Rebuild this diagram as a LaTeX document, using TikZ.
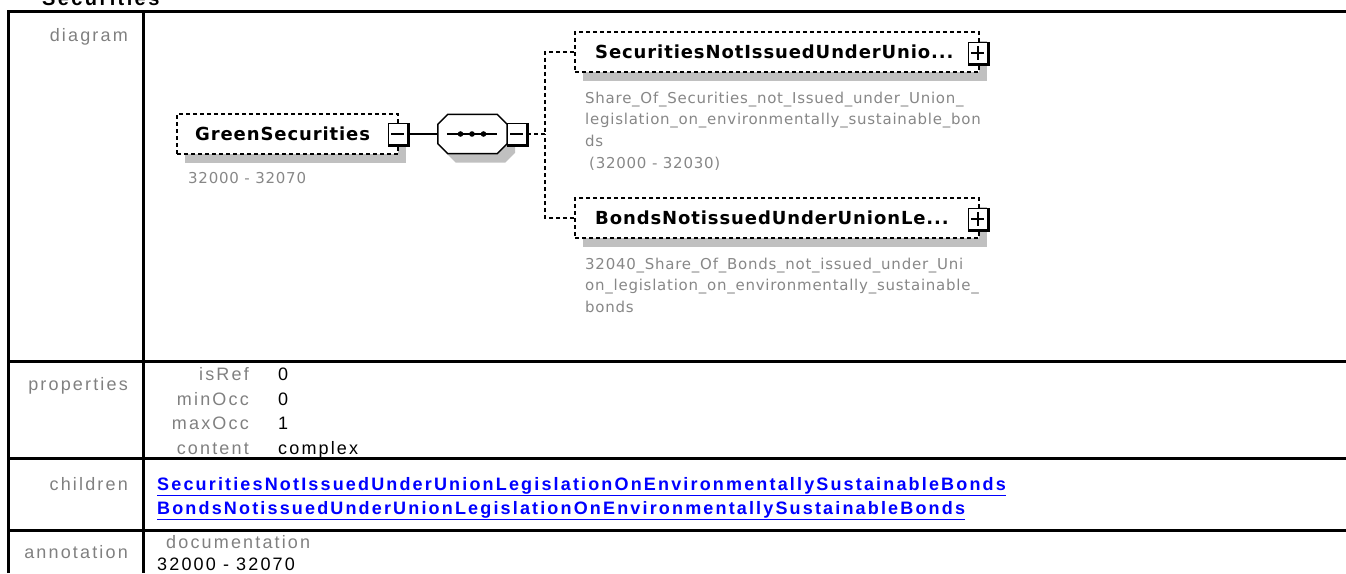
\documentclass[tikz,border=0pt]{standalone}
\usepackage{fontspec}
\setmainfont[LetterSpace=12]{Liberation Sans}
\newfontfamily\dvfont[LetterSpace=5]{DejaVu Sans}
\usetikzlibrary{shadows}
\definecolor{lbl}{RGB}{128,128,128}
\definecolor{shd}{RGB}{192,192,192}
\definecolor{dgray}{RGB}{135,135,135}
\definecolor{lnk}{RGB}{0,0,255}
\newcommand\pmbox[3]{%
  \node[pmb] (#1) at (#2) {};
  \draw[line width=2.8pt] (#1.north east) -- (#1.south east) -- (#1.south west);
  \draw[line width=1.5pt] ([xshift=3.5pt]#1.west) -- ([xshift=-4.5pt]#1.east);
  \ifnum#3=1 \draw[line width=1.5pt] ([yshift=-4pt]#1.north) -- ([yshift=4.5pt]#1.south);\fi
}
\begin{document}
\begin{tikzpicture}[x=1pt,y=-1pt,
  tbl/.style={line width=3pt},
  lab/.style={text=lbl, font=\fontsize{18}{20}\selectfont, inner sep=0},
  val/.style={text=black, font=\fontsize{18}{20}\selectfont, inner sep=0},
  lnkst/.style={text=lnk, font=\bfseries\fontsize{18}{20}\selectfont, inner sep=0},
  elem/.style={draw, dash pattern=on 4pt off 3pt, line width=1.6pt, fill=white, inner sep=0,
    general shadow={fill=shd, shadow xshift=8pt, shadow yshift=-9pt}},
  pmb/.style={draw, line width=1.5pt, fill=white, minimum width=19pt, minimum height=21pt, inner sep=0},
  nm/.style={font=\dvfont\bfseries\fontsize{18}{20}\selectfont, inner sep=0},
  dsc/.style={font=\dvfont\fontsize{15}{21.7}\selectfont, text=dgray, inner sep=0, align=left},
  dl/.style={dash pattern=on 4pt off 3pt, line width=1.6pt}
]
\useasboundingbox (0,0) rectangle (1346,573);
% title
\node[font=\bfseries\fontsize{20}{22}\selectfont, inner sep=0, anchor=base west] (title) at (42,5) {Securities};
% table
\draw[tbl] (8,573) -- (8,11) -- (1346,11);
\draw[tbl] (143,11) -- (143,573);
\draw[tbl] (8,361) -- (1346,361);
\draw[tbl] (8,458) -- (1346,458);
\draw[tbl] (8,530) -- (1346,530);
% row labels
\node[lab, anchor=base east] (ldiag) at (128,41.5) {diagram};
\node[lab, anchor=base east] (lprop) at (128,390) {properties};
\node[lab, anchor=base east] (lchild) at (128,490) {children};
\node[lab, anchor=base east] (lanno) at (128,558) {annotation};
% properties
\node[lab, anchor=base east] (k1) at (249,380) {isRef};
\node[lab, anchor=base east] (k2) at (249,405) {minOcc};
\node[lab, anchor=base east] (k3) at (249,429) {maxOcc};
\node[lab, anchor=base east] (k4) at (249,454) {content};
\node[val, anchor=base west] (v1) at (278,380) {0};
\node[val, anchor=base west] (v2) at (278,405) {0};
\node[val, anchor=base west] (v3) at (278,429) {1};
\node[val, anchor=base west] (v4) at (278,454) {complex};
% children
\node[lnkst, anchor=base west] (ch1) at (157,490) {\underline{SecuritiesNotIssuedUnderUnionLegislationOnEnvironmentallySustainableBonds}};
\node[lnkst, anchor=base west] (ch2) at (157,514) {\underline{BondsNotissuedUnderUnionLegislationOnEnvironmentallySustainableBonds}};
% annotation
\node[lab, anchor=base west] (doc) at (166,548) {documentation};
\node[val, anchor=base west] (docv) at (157,570) {32000 - 32070};

% diagram
\node[elem, minimum width=221pt, minimum height=40pt] (gs) at (287.5,134) {};
\node[nm, anchor=west] (gst) at (195,134) {GreenSecurities};
\node[dsc, anchor=base west] (gsd) at (188,183) {32000 - 32070};
\pmbox{gsm}{398,134}{0}

\node[inner sep=0, minimum width=69pt, minimum height=39pt] (seq) at (472.5,134) {};
\fill[shd, transform canvas={shift={(8,9)}}] ([xshift=10pt]seq.north west) -- ([xshift=-10pt]seq.north east) -- ([yshift=-10pt]seq.north east) -- ([yshift=10pt]seq.south east) -- ([xshift=-10pt]seq.south east) -- ([xshift=10pt]seq.south west) -- ([yshift=10pt]seq.south west) -- ([yshift=-10pt]seq.north west) -- cycle;
\draw[line width=1.5pt, fill=white] ([xshift=10pt]seq.north west) -- ([xshift=-10pt]seq.north east) -- ([yshift=-10pt]seq.north east) -- ([yshift=10pt]seq.south east) -- ([xshift=-10pt]seq.south east) -- ([xshift=10pt]seq.south west) -- ([yshift=10pt]seq.south west) -- ([yshift=-10pt]seq.north west) -- cycle;
\draw[line width=1.5pt] ([xshift=9pt]seq.west) -- ([xshift=-10pt]seq.east);
\fill ([xshift=-12pt]seq.center) circle (2.8pt);
\fill ([xshift=-0.5pt]seq.center) circle (2.8pt);
\fill ([xshift=11pt]seq.center) circle (2.8pt);
\pmbox{seqm}{517,134}{0}
\draw[line width=1.5pt] (gsm.east) -- (seq.west);

\coordinate (tk) at (545,134);
\node[elem, minimum width=404pt, minimum height=40pt] (c1) at (777,52) {};
\node[nm, anchor=west] (c1t) at (595,52) {SecuritiesNotIssuedUnderUnio...};
\pmbox{c1p}{978,53}{1}
\node[dsc, anchor=north west] (c1d) at (585,91.6) {Share\_Of\_Securities\_not\_Issued\_under\_Union\_\\legislation\_on\_environmentally\_sustainable\_bon\\ds\\\hspace*{4pt}(32000 - 32030)};

\node[elem, minimum width=404pt, minimum height=40pt] (c2) at (777,218) {};
\node[nm, anchor=west] (c2t) at (595,218) {BondsNotissuedUnderUnionLe...};
\pmbox{c2p}{978,219}{1}
\node[dsc, anchor=north west] (c2d) at (585,257.6) {32040\_Share\_Of\_Bonds\_not\_issued\_under\_Uni\\on\_legislation\_on\_environmentally\_sustainable\_\\bonds};

\draw[dl] (seqm.east) -- (tk);
\draw[dl] (c1.west) -| (tk);
\draw[dl] (c2.west) -| (tk);
\end{tikzpicture}
\end{document}
